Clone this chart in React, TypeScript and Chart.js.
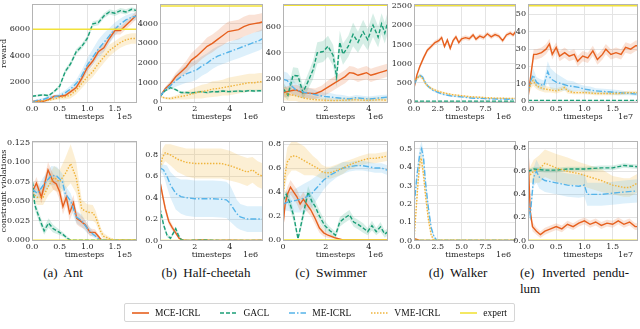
import { useEffect, useRef } from "react";
import { Chart, registerables } from "chart.js";
Chart.register(...registerables);

type Pt = [number, number, number]; // [timestep, mean, half-width of band]

// ---------- (a) Ant : reward (x in 1e5 timesteps) ----------
const antRewMCE: Pt[] = [[0,550,80],[0.1,600,80],[0.2,560,80],[0.3,700,100],[0.4,950,100],[0.5,950,100],[0.6,1000,100],[0.7,1300,150],[0.8,1600,200],[0.9,2300,250],[1.0,3100,300],[1.1,3600,300],[1.2,4300,300],[1.3,4600,300],[1.4,5300,300],[1.5,5900,300],[1.6,5900,300],[1.7,6300,300],[1.8,6700,300],[1.9,7100,300]];
const antRewGACL: Pt[] = [[0,950,80],[0.1,1000,80],[0.2,1050,80],[0.3,1000,80],[0.4,1300,100],[0.5,1700,150],[0.6,2800,200],[0.7,3400,200],[0.8,4300,200],[0.9,4700,200],[1.0,5300,200],[1.1,6400,200],[1.2,6500,200],[1.3,7000,200],[1.4,7300,200],[1.5,7200,200],[1.6,7400,200],[1.7,7300,200],[1.8,7500,150],[1.9,7400,150]];
const antRewME: Pt[] = [[0,500,100],[0.1,650,100],[0.2,700,120],[0.3,850,120],[0.4,900,150],[0.5,1000,150],[0.6,1200,200],[0.7,1500,250],[0.8,1900,300],[0.9,2500,400],[1.0,3300,500],[1.1,3900,600],[1.2,4500,700],[1.3,5000,700],[1.4,5500,600],[1.5,6000,500],[1.6,6400,400],[1.7,6700,350],[1.8,6900,300],[1.9,7000,300]];
const antRewVME: Pt[] = [[0,500,80],[0.1,550,80],[0.2,600,80],[0.3,650,100],[0.4,750,100],[0.5,850,150],[0.6,900,200],[0.7,1050,250],[0.8,1400,300],[0.9,1900,350],[1.0,2400,400],[1.1,2800,400],[1.2,3400,450],[1.3,3900,450],[1.4,4400,450],[1.5,4700,400],[1.6,5000,400],[1.7,5200,400],[1.8,5300,400],[1.9,5300,400]];
const antRewExpert = 6000;

// ---------- (b) Half-cheetah : reward (x in 1e6) ----------
const hcRewMCE: Pt[] = [[0,300,50],[0.3,700,100],[0.6,950,150],[0.9,1300,200],[1.2,1550,250],[1.5,1800,300],[1.8,2150,350],[2.1,2350,400],[2.4,2600,400],[2.7,2850,450],[3.0,3000,450],[3.3,3200,450],[3.6,3400,500],[3.9,3600,500],[4.2,3650,500],[4.5,3700,500],[4.8,3850,500],[5.1,3950,500],[5.4,4000,450],[5.7,4050,450],[5.9,4100,450]];
const hcRewGACL: Pt[] = [[0,300,60],[0.3,600,60],[0.6,750,60],[0.9,650,60],[1.2,500,60],[1.5,500,60],[1.8,480,60],[2.1,520,60],[2.4,550,60],[2.7,500,60],[3.0,550,60],[3.3,540,60],[3.6,580,60],[3.9,550,60],[4.2,560,60],[4.5,580,60],[4.8,560,60],[5.1,600,60],[5.4,580,60],[5.7,590,60],[5.9,600,60]];
const hcRewME: Pt[] = [[0,300,50],[0.3,650,100],[0.6,850,200],[0.9,1100,300],[1.2,1300,400],[1.5,1450,450],[1.8,1550,500],[2.1,1650,500],[2.4,1850,500],[2.7,2000,500],[3.0,2200,500],[3.3,2350,500],[3.6,2450,500],[3.9,2550,500],[4.2,2650,500],[4.5,2750,500],[4.8,2850,500],[5.1,2950,500],[5.4,3050,500],[5.7,3150,500],[5.9,3250,500]];
const hcRewVME: Pt[] = [[0,300,50],[0.3,220,60],[0.6,200,80],[0.9,250,100],[1.2,300,150],[1.5,350,200],[1.8,420,250],[2.1,500,300],[2.4,550,350],[2.7,600,350],[3.0,680,400],[3.3,700,400],[3.6,750,400],[3.9,800,450],[4.2,850,450],[4.5,900,450],[4.8,950,450],[5.1,1000,450],[5.4,1000,450],[5.7,1050,450],[5.9,1050,450]];
const hcRewExpert = 4900;

// ---------- (c) Swimmer : reward (x in 1e6) ----------
const swRewMCE: Pt[] = [[0,100,40],[0.3,110,40],[0.6,120,40],[0.9,100,40],[1.2,95,40],[1.5,90,40],[1.8,110,40],[2.1,140,50],[2.4,170,50],[2.7,200,50],[2.9,220,50],[3.1,250,50],[3.3,245,50],[3.5,230,50],[3.7,240,50],[3.9,250,50],[4.1,230,50],[4.3,240,50],[4.5,250,50],[4.7,260,50],[4.9,270,50]];
const swRewGACL: Pt[] = [[0,130,50],[0.23,80,40],[0.47,230,60],[0.7,225,60],[0.93,100,50],[1.16,180,60],[1.4,270,70],[1.6,400,80],[1.87,410,80],[2.1,450,80],[2.34,380,80],[2.5,220,80],[2.65,480,90],[2.8,390,80],[3.05,450,80],[3.27,540,90],[3.5,480,80],[3.74,560,90],[3.95,500,80],[4.2,610,90],[4.44,520,80],[4.6,620,80],[4.75,550,80],[4.9,640,80]];
const swRewME: Pt[] = [[0,200,60],[0.2,190,60],[0.4,150,60],[0.6,120,50],[0.8,110,50],[1.0,100,40],[1.3,90,40],[1.6,80,30],[1.9,70,30],[2.2,65,30],[2.5,60,25],[2.8,55,25],[3.1,50,20],[3.4,60,20],[3.7,55,20],[4.0,50,20],[4.3,55,20],[4.6,60,20],[4.9,65,20]];
const swRewVME: Pt[] = [[0,90,50],[0.3,85,50],[0.6,75,40],[0.9,60,40],[1.2,50,30],[1.5,45,25],[1.8,42,20],[2.1,40,20],[2.4,38,20],[2.7,40,20],[3.0,42,20],[3.3,45,20],[3.6,42,20],[3.9,40,20],[4.2,42,20],[4.5,45,20],[4.9,40,20]];
const swRewExpert = 760;

// ---------- (d) Walker : reward (x in 1e6) ----------
const wkRewMCE: Pt[] = [[0,360,40],[0.3,700,60],[0.6,920,60],[1.0,1150,60],[1.4,1350,60],[1.8,1450,60],[2.2,1550,60],[2.6,1600,60],[2.9,1680,60],[3.2,1450,60],[3.5,1620,60],[3.8,1400,60],[4.1,1600,60],[4.4,1700,60],[4.7,1550,60],[5.0,1650,60],[5.4,1680,60],[5.8,1650,60],[6.2,1750,60],[6.5,1640,60],[6.9,1720,60],[7.3,1680,60],[7.7,1780,60],[8.1,1700,60],[8.5,1760,60],[8.9,1720,60],[9.3,1600,60],[9.7,1750,60],[10.1,1800,60],[10.4,1750,60],[10.7,1850,60]];
const wkRewGACL: Pt[] = [[0,20,5],[5,20,5],[10.7,20,5]];
const wkRewME: Pt[] = [[0,450,40],[0.3,600,50],[0.6,700,50],[0.9,650,50],[1.2,500,50],[1.5,400,40],[2.0,300,30],[2.5,250,30],[3.0,200,30],[4.0,150,20],[5.0,130,20],[6.0,100,20],[7.0,90,20],[8.0,80,20],[9.0,75,20],[10.0,70,20],[10.7,70,20]];
const wkRewVME: Pt[] = [[0,500,40],[0.3,620,50],[0.6,680,50],[0.9,620,50],[1.2,480,50],[1.5,400,40],[2.0,330,30],[2.5,280,30],[3.0,240,30],[4.0,190,25],[5.0,160,20],[6.0,130,20],[7.0,120,20],[8.0,100,20],[9.0,95,20],[10.0,90,20],[10.7,90,20]];
const wkRewExpert = 2520;

// ---------- (e) Inverted pendulum : reward (x in 1e7) ----------
const ipRewMCE: Pt[] = [[0,2,1],[0.05,15,2],[0.1,27,3],[0.15,27,3],[0.24,28,3],[0.32,30,3],[0.38,33,3],[0.43,27,3],[0.5,31,3],[0.56,26,3],[0.65,28,3],[0.73,26,3],[0.82,27,3],[0.88,23,3],[0.97,26,3],[1.06,25,3],[1.15,29,3],[1.23,24,3],[1.32,27,3],[1.38,30,3],[1.47,27,3],[1.56,28,3],[1.65,27,3],[1.73,31,3],[1.82,30,3],[1.91,32,3],[1.95,32,3]];
const ipRewGACL: Pt[] = [[0,0.5,0.2],[1,0.5,0.2],[1.95,0.5,0.2]];
const ipRewME: Pt[] = [[0,5,2],[0.05,12,3],[0.09,15,4],[0.15,11,3],[0.2,10,3],[0.28,9,3],[0.35,17,6],[0.4,13,6],[0.5,11,5],[0.6,10,4],[0.7,9,3],[0.8,8.5,3],[0.9,8,2],[1.0,7,2],[1.1,6.5,2],[1.2,6,1.5],[1.4,5.5,1.5],[1.6,5,1.5],[1.8,4.5,1],[1.95,4,1]];
const ipRewVME: Pt[] = [[0,5,2],[0.05,10,3],[0.09,12,3],[0.15,9,2],[0.2,8,2],[0.3,7,2],[0.4,6.5,1.5],[0.5,6,1.5],[0.6,7,1.5],[0.65,8,1.5],[0.7,6,1.5],[0.8,5,1],[0.9,5,1],[1.0,5,1],[1.2,4.5,1],[1.4,4.5,1],[1.6,4.5,1],[1.8,5,1],[1.95,5,1]];
const ipRewExpert = 55;

// ---------- (a) Ant : constraint violations ----------
const antVioMCE: Pt[] = [[0,0.061,0.006],[0.08,0.073,0.008],[0.17,0.055,0.008],[0.29,0.09,0.01],[0.38,0.075,0.01],[0.44,0.072,0.01],[0.5,0.062,0.01],[0.56,0.043,0.01],[0.62,0.055,0.01],[0.68,0.035,0.01],[0.75,0.048,0.01],[0.81,0.028,0.008],[0.87,0.025,0.008],[0.96,0.02,0.006],[1.05,0.01,0.005],[1.14,0.01,0.004],[1.2,0.005,0.003],[1.26,0,0.001],[1.4,0,0],[1.9,0,0]];
const antVioGACL: Pt[] = [[0,0.082,0.005],[0.05,0.045,0.006],[0.1,0.035,0.006],[0.15,0.025,0.006],[0.22,0.012,0.005],[0.3,0.022,0.006],[0.38,0.015,0.005],[0.45,0.012,0.004],[0.55,0.008,0.003],[0.65,0.002,0.002],[0.7,0,0.001],[1.9,0,0]];
const antVioME: Pt[] = [[0,0.065,0.008],[0.1,0.06,0.008],[0.2,0.07,0.01],[0.35,0.083,0.012],[0.45,0.082,0.012],[0.55,0.075,0.01],[0.6,0.06,0.01],[0.7,0.05,0.01],[0.8,0.03,0.008],[0.9,0.025,0.008],[1.0,0.015,0.006],[1.1,0.008,0.004],[1.2,0.002,0.002],[1.3,0,0.001],[1.9,0,0]];
const antVioVME: Pt[] = [[0,0.06,0.008],[0.1,0.055,0.01],[0.2,0.055,0.01],[0.3,0.07,0.012],[0.4,0.08,0.015],[0.5,0.075,0.015],[0.6,0.085,0.02],[0.7,0.098,0.025],[0.8,0.08,0.02],[0.9,0.04,0.012],[1.0,0.036,0.01],[1.1,0.035,0.01],[1.15,0.03,0.008],[1.25,0.01,0.005],[1.3,0.005,0.004],[1.4,0.002,0.002],[1.5,0,0.001],[1.9,0,0]];

// ---------- (b) Half-cheetah : constraint violations ----------
const hcVioMCE: Pt[] = [[0,0.55,0.03],[0.15,0.42,0.04],[0.3,0.3,0.04],[0.5,0.18,0.03],[0.7,0.12,0.03],[0.9,0.07,0.02],[1.1,0.02,0.01],[1.3,0.005,0.005],[1.6,0,0.002],[2.5,0.005,0.003],[3.0,0,0.002],[4.0,0.003,0.002],[5.0,0,0.002],[5.9,0.003,0.002]];
const hcVioGACL: Pt[] = [[0,0.3,0.03],[0.2,0.15,0.03],[0.4,0.05,0.02],[0.6,0.02,0.01],[0.8,0.08,0.02],[0.9,0.11,0.02],[1.05,0.05,0.02],[1.2,0.01,0.01],[1.4,0,0.005],[2.5,0.005,0.003],[3.5,0,0.002],[5.9,0,0.002]];
const hcVioME: Pt[] = [[0,0.68,0.03],[0.2,0.66,0.05],[0.4,0.6,0.1],[0.6,0.52,0.12],[0.9,0.44,0.15],[1.2,0.41,0.16],[1.5,0.4,0.17],[2.0,0.39,0.17],[2.5,0.39,0.17],[3.0,0.39,0.17],[3.5,0.385,0.17],[3.8,0.38,0.17],[4.0,0.35,0.17],[4.2,0.3,0.15],[4.4,0.25,0.13],[4.6,0.22,0.12],[5.0,0.2,0.12],[5.5,0.2,0.12],[5.9,0.2,0.12]];
const hcVioVME: Pt[] = [[0,0.68,0.05],[0.15,0.78,0.08],[0.3,0.82,0.08],[0.6,0.8,0.1],[1.0,0.76,0.12],[1.5,0.73,0.13],[2.0,0.72,0.14],[2.5,0.72,0.14],[3.0,0.72,0.14],[3.5,0.72,0.14],[4.0,0.7,0.14],[4.5,0.67,0.13],[5.0,0.64,0.13],[5.3,0.66,0.12],[5.6,0.62,0.12],[5.9,0.6,0.12]];

// ---------- (c) Swimmer : constraint violations ----------
const swVioMCE: Pt[] = [[0,0.12,0.03],[0.1,0.3,0.05],[0.2,0.38,0.06],[0.35,0.44,0.06],[0.5,0.4,0.06],[0.65,0.36,0.06],[0.8,0.3,0.06],[0.95,0.34,0.06],[1.1,0.3,0.06],[1.3,0.25,0.05],[1.5,0.18,0.05],[1.7,0.1,0.04],[1.9,0.06,0.03],[2.1,0.04,0.02],[2.4,0.02,0.01],[2.8,0,0.005],[4.9,0,0.003]];
const swVioGACL: Pt[] = [[0,0.33,0.03],[0.15,0.38,0.04],[0.3,0.32,0.05],[0.5,0.2,0.05],[0.7,0.01,0.02],[0.93,0.2,0.05],[1.17,0.4,0.05],[1.35,0.32,0.05],[1.5,0.28,0.05],[1.7,0.2,0.05],[1.95,0.12,0.04],[2.18,0.08,0.03],[2.45,0.04,0.03],[2.65,0.15,0.04],[2.85,0.18,0.04],[3.1,0.21,0.04],[3.3,0.15,0.04],[3.5,0.13,0.04],[3.74,0.1,0.04],[3.95,0.07,0.03],[4.15,0.12,0.04],[4.35,0.07,0.03],[4.55,0.11,0.04],[4.75,0.05,0.03],[4.9,0.07,0.03]];
const swVioME: Pt[] = [[0,0.3,0.05],[0.3,0.32,0.08],[0.6,0.33,0.1],[1.0,0.35,0.12],[1.3,0.38,0.12],[1.6,0.44,0.1],[1.9,0.5,0.08],[2.2,0.54,0.06],[2.5,0.57,0.05],[2.8,0.6,0.05],[3.1,0.61,0.04],[3.4,0.62,0.04],[3.7,0.62,0.04],[4.0,0.61,0.04],[4.3,0.6,0.04],[4.6,0.6,0.04],[4.9,0.58,0.04]];
const swVioVME: Pt[] = [[0,0.35,0.05],[0.1,0.55,0.1],[0.2,0.65,0.12],[0.4,0.7,0.12],[0.6,0.7,0.12],[0.8,0.68,0.12],[1.0,0.66,0.12],[1.2,0.64,0.1],[1.4,0.62,0.08],[1.6,0.6,0.07],[1.8,0.57,0.06],[2.0,0.56,0.05],[2.2,0.56,0.05],[2.5,0.58,0.05],[2.8,0.6,0.05],[3.0,0.62,0.04],[3.3,0.64,0.04],[3.6,0.66,0.04],[4.0,0.68,0.04],[4.3,0.68,0.04],[4.6,0.69,0.04],[4.9,0.7,0.04]];

// ---------- (d) Walker : constraint violations ----------
const wkVioMCE: Pt[] = [[0,0.01,0.005],[0.3,0.005,0.003],[0.6,0,0.001],[10.7,0,0]];
const wkVioGACL: Pt[] = [[0,0,0],[10.7,0,0]];
const wkVioME: Pt[] = [[0,0.18,0.03],[0.3,0.35,0.04],[0.6,0.47,0.04],[0.8,0.5,0.04],[1.0,0.45,0.04],[1.2,0.32,0.04],[1.5,0.18,0.03],[1.8,0.07,0.02],[2.1,0.02,0.01],[2.4,0,0.003],[10.7,0,0]];
const wkVioVME: Pt[] = [[0,0,0.01],[0.2,0.15,0.03],[0.4,0.3,0.04],[0.6,0.42,0.04],[0.75,0.45,0.04],[1.0,0.36,0.04],[1.2,0.25,0.03],[1.5,0.12,0.03],[1.8,0.03,0.01],[2.1,0,0.003],[10.7,0,0]];

// ---------- (e) Inverted pendulum : constraint violations ----------
const ipVioMCE: Pt[] = [[0,0.8,0.02],[0.02,0.5,0.05],[0.04,0.25,0.05],[0.08,0.12,0.04],[0.15,0.08,0.03],[0.22,0.05,0.03],[0.3,0.08,0.03],[0.4,0.1,0.03],[0.5,0.12,0.03],[0.6,0.1,0.03],[0.7,0.14,0.03],[0.8,0.12,0.03],[0.9,0.15,0.03],[1.0,0.17,0.03],[1.1,0.14,0.03],[1.2,0.16,0.03],[1.3,0.13,0.03],[1.4,0.15,0.03],[1.5,0.14,0.03],[1.6,0.17,0.03],[1.7,0.14,0.03],[1.8,0.16,0.03],[1.9,0.12,0.03],[1.95,0.12,0.03]];
const ipVioGACL: Pt[] = [[0,0.6,0.02],[0.1,0.62,0.02],[0.3,0.61,0.02],[0.5,0.61,0.02],[0.7,0.62,0.02],[1.0,0.62,0.02],[1.3,0.63,0.02],[1.5,0.63,0.02],[1.7,0.65,0.02],[1.95,0.64,0.02]];
const ipVioME: Pt[] = [[0,0.35,0.05],[0.04,0.22,0.05],[0.1,0.55,0.08],[0.15,0.6,0.1],[0.2,0.55,0.1],[0.3,0.52,0.1],[0.5,0.5,0.1],[0.7,0.48,0.1],[0.9,0.47,0.1],[1.0,0.48,0.1],[1.05,0.4,0.1],[1.3,0.4,0.1],[1.5,0.41,0.1],[1.7,0.42,0.1],[1.95,0.43,0.1]];
const ipVioVME: Pt[] = [[0,0.55,0.05],[0.1,0.6,0.1],[0.2,0.62,0.12],[0.3,0.67,0.12],[0.5,0.63,0.12],[0.7,0.6,0.12],[0.9,0.58,0.1],[1.1,0.55,0.1],[1.3,0.52,0.1],[1.5,0.48,0.08],[1.7,0.46,0.08],[1.8,0.46,0.08],[1.95,0.5,0.08]];
const vioExpert = 0;

// ---------- ticks ----------
const xTicksA = [0, 0.5, 1, 1.5]; const xLabelsA = ["0.0", "0.5", "1.0", "1.5"];
const xTicksB = [0, 2, 4]; const xLabelsB = ["0", "2", "4"];
const xTicksD = [0, 2.5, 5, 7.5]; const xLabelsD = ["0.0", "2.5", "5.0", "7.5"];
const yTicksAntRew = [2000, 4000, 6000];
const yTicksHcRew = [0, 1000, 2000, 3000, 4000];
const yTicksSwRew = [200, 400, 600];
const yTicksWkRew = [0, 500, 1000, 1500, 2000, 2500];
const yTicksIpRew = [0, 10, 20, 30, 40, 50];
const yTicksAntVio = [0, 0.025, 0.05, 0.075, 0.1, 0.125];
const yLabelsAntVio = ["0.000", "0.025", "0.050", "0.075", "0.100", "0.125"];
const yTicksVio8 = [0, 0.2, 0.4, 0.6, 0.8]; const yLabelsVio8 = ["0.0", "0.2", "0.4", "0.6", "0.8"];
const yTicksVio5 = [0, 0.1, 0.2, 0.3, 0.4, 0.5]; const yLabelsVio5 = ["0.0", "0.1", "0.2", "0.3", "0.4", "0.5"];

const LABELS = ["MCE-ICRL", "GACL", "ME-ICRL", "VME-ICRL", "expert"];
const COLORS = ["#e6601e", "#1b9e77", "#56b4e9", "#f0b43c", "#f2e23a"];
const BANDS = ["rgba(230,96,30,0.18)", "rgba(27,158,119,0.18)", "rgba(86,180,233,0.2)", "rgba(240,180,60,0.22)", "rgba(0,0,0,0)"];
const DASHES: number[][] = [[], [4, 2], [6, 2, 1.5, 2], [1.5, 1.5], []];

const FONT = "'DejaVu Serif', serif";
const LP = 34, TP = 6, RP = 3, BP = 19;
const GRID = "#e4e4e4";
const FRAME = "#b4b4b4";
const TXT = "#262626";

interface PanelCfg {
  box: [number, number, number, number];
  xMax: number; yMin: number; yMax: number;
  xTicks: number[]; xLabels: string[];
  yTicks: number[]; yLabels: string[];
  exp: string; yTitle?: string;
  series: Pt[][]; expert: number;
}

const str = (a: number[]) => a.map(String);

const PANELS: PanelCfg[] = [
  { box: [32, 4, 137, 103], xMax: 1.9, yMin: 440, yMax: 7900, xTicks: xTicksA, xLabels: xLabelsA, yTicks: yTicksAntRew, yLabels: str(yTicksAntRew), exp: "1e5", yTitle: "reward", series: [antRewMCE, antRewGACL, antRewME, antRewVME], expert: antRewExpert },
  { box: [160, 4, 263, 103], xMax: 5.9, yMin: -30, yMax: 5000, xTicks: xTicksB, xLabels: xLabelsB, yTicks: yTicksHcRew, yLabels: str(yTicksHcRew), exp: "1e6", series: [hcRewMCE, hcRewGACL, hcRewME, hcRewVME], expert: hcRewExpert },
  { box: [283, 4, 388, 103], xMax: 4.9, yMin: 20, yMax: 770, xTicks: xTicksB, xLabels: xLabelsB, yTicks: yTicksSwRew, yLabels: str(yTicksSwRew), exp: "1e6", series: [swRewMCE, swRewGACL, swRewME, swRewVME], expert: swRewExpert },
  { box: [414, 4, 516, 103], xMax: 10.7, yMin: -30, yMax: 2560, xTicks: xTicksD, xLabels: xLabelsD, yTicks: yTicksWkRew, yLabels: str(yTicksWkRew), exp: "1e6", series: [wkRewMCE, wkRewGACL, wkRewME, wkRewVME], expert: wkRewExpert },
  { box: [528, 4, 638, 103], xMax: 1.95, yMin: -1, yMax: 56, xTicks: xTicksA, xLabels: xLabelsA, yTicks: yTicksIpRew, yLabels: str(yTicksIpRew), exp: "1e7", series: [ipRewMCE, ipRewGACL, ipRewME, ipRewVME], expert: ipRewExpert },
  { box: [32, 141, 137, 241], xMax: 1.9, yMin: -0.001, yMax: 0.127, xTicks: xTicksA, xLabels: xLabelsA, yTicks: yTicksAntVio, yLabels: yLabelsAntVio, exp: "1e5", yTitle: "constraint violations", series: [antVioMCE, antVioGACL, antVioME, antVioVME], expert: vioExpert },
  { box: [160, 141, 263, 241], xMax: 5.9, yMin: -0.005, yMax: 0.93, xTicks: xTicksB, xLabels: xLabelsB, yTicks: yTicksVio8, yLabels: yLabelsVio8, exp: "1e6", series: [hcVioMCE, hcVioGACL, hcVioME, hcVioVME], expert: vioExpert },
  { box: [283, 141, 388, 241], xMax: 4.9, yMin: -0.008, yMax: 0.825, xTicks: xTicksB, xLabels: xLabelsB, yTicks: yTicksVio8, yLabels: yLabelsVio8, exp: "1e6", series: [swVioMCE, swVioGACL, swVioME, swVioVME], expert: vioExpert },
  { box: [414, 141, 516, 241], xMax: 10.7, yMin: -0.003, yMax: 0.543, xTicks: xTicksD, xLabels: xLabelsD, yTicks: yTicksVio5, yLabels: yLabelsVio5, exp: "1e6", series: [wkVioMCE, wkVioGACL, wkVioME, wkVioVME], expert: vioExpert },
  { box: [528, 141, 638, 241], xMax: 1.95, yMin: -0.005, yMax: 0.863, xTicks: xTicksA, xLabels: xLabelsA, yTicks: yTicksVio8, yLabels: yLabelsVio8, exp: "1e7", series: [ipVioMCE, ipVioGACL, ipVioME, ipVioVME], expert: vioExpert },
];

const framePlugin = {
  id: "frame",
  afterDatasetsDraw(chart: any) {
    const { ctx, chartArea: a } = chart;
    ctx.save();
    ctx.strokeStyle = FRAME;
    ctx.lineWidth = 1;
    ctx.strokeRect(Math.round(a.left) + 0.5, Math.round(a.top) + 0.5, Math.round(a.right - a.left) - 1, Math.round(a.bottom - a.top) - 1);
    ctx.restore();
  },
};

const expPlugin = {
  id: "expLabel",
  afterDraw(chart: any, _args: any, opts: any) {
    const { ctx, chartArea: a } = chart;
    ctx.save();
    ctx.font = `8px ${FONT}`;
    ctx.fillStyle = TXT;
    ctx.textAlign = "right";
    ctx.textBaseline = "middle";
    ctx.fillText(opts.text, a.right - 5, a.bottom + BP - 5);
    ctx.restore();
  },
};

function Panel({ cfg }: { cfg: PanelCfg }) {
  const ref = useRef<HTMLCanvasElement>(null);
  const [l, t, r, b] = cfg.box;
  const w = LP + (r - l) + RP;
  const h = TP + (b - t) + BP;
  useEffect(() => {
    const datasets: any[] = [];
    cfg.series.forEach((pts, i) => {
      datasets.push({ data: pts.map((p) => ({ x: p[0], y: p[1] - p[2] })), borderWidth: 0, pointRadius: 0, fill: false, order: 20 });
      datasets.push({ data: pts.map((p) => ({ x: p[0], y: p[1] + p[2] })), borderWidth: 0, pointRadius: 0, fill: "-1", backgroundColor: BANDS[i], order: 20 });
    });
    cfg.series.forEach((pts, i) => {
      datasets.push({ label: LABELS[i], data: pts.map((p) => ({ x: p[0], y: p[1] })), borderColor: COLORS[i], borderWidth: 1.4, borderDash: DASHES[i], pointRadius: 0, fill: false, tension: 0, order: 10 - i });
    });
    datasets.push({ label: LABELS[4], data: [{ x: 0, y: cfg.expert }, { x: cfg.xMax, y: cfg.expert }], borderColor: COLORS[4], borderWidth: 1.6, pointRadius: 0, fill: false, order: 1 });

    const tickFont = { family: FONT, size: 8 };
    const chart = new Chart(ref.current as HTMLCanvasElement, {
      type: "line",
      data: { datasets },
      plugins: [framePlugin, expPlugin],
      options: {
        animation: false,
        responsive: false,
        devicePixelRatio: 1,
        layout: { padding: { top: TP, right: RP, left: 0, bottom: 0 } },
        plugins: { legend: { display: false }, tooltip: { enabled: false }, expLabel: { text: cfg.exp } } as any,
        scales: {
          x: {
            type: "linear", min: 0, max: cfg.xMax,
            afterBuildTicks: (s: any) => { s.ticks = cfg.xTicks.map((v) => ({ value: v })); },
            afterFit: (s: any) => { s.height = BP; s.paddingLeft = 0; s.paddingRight = 0; },
            ticks: { callback: (_v: any, i: number) => cfg.xLabels[i], font: tickFont, color: TXT, padding: 1, maxRotation: 0, autoSkip: false },
            grid: { color: GRID, drawTicks: false, lineWidth: 1 },
            border: { display: false },
            title: { display: true, text: "timesteps", font: tickFont, color: TXT, padding: 0 },
          },
          y: {
            type: "linear", min: cfg.yMin, max: cfg.yMax,
            afterBuildTicks: (s: any) => { s.ticks = cfg.yTicks.map((v) => ({ value: v })); },
            afterFit: (s: any) => { s.width = LP; s.paddingTop = 0; s.paddingBottom = 0; },
            ticks: { callback: (_v: any, i: number) => cfg.yLabels[i], font: tickFont, color: TXT, padding: 2, autoSkip: false },
            grid: { color: GRID, drawTicks: false, lineWidth: 1 },
            border: { display: false },
            title: { display: !!cfg.yTitle, text: cfg.yTitle || "", font: tickFont, color: TXT, padding: { top: 1, bottom: 0 } },
          },
        },
      } as any,
    });
    return () => chart.destroy();
  }, []);
  return (
    <canvas ref={ref} width={w} height={h}
      style={{ position: "absolute", left: l - LP, top: t - TP, width: w, height: h }} />
  );
}

const CAPTIONS: [string, number][] = [["(a)\u00a0 Ant", 63], ["(b)\u00a0 Half-cheetah", 206], ["(c)\u00a0 Swimmer", 331], ["(d)\u00a0 Walker", 458]];

export default function App() {
  const capFont = "'Liberation Serif', 'Times New Roman', serif";
  return (
    <div style={{ position: "fixed", left: 0, top: 0, width: 640, height: 329, background: "#fff", overflow: "hidden" }}>
      {PANELS.map((p, i) => <Panel key={i} cfg={p} />)}
      {CAPTIONS.map(([txt, cx], i) => (
        <div key={i} style={{ position: "absolute", left: cx - 70, width: 140, top: 265, lineHeight: "16px", textAlign: "center", fontFamily: capFont, fontSize: 13, color: "#111", whiteSpace: "nowrap" }}>{txt}</div>
      ))}
      <div style={{ position: "absolute", left: 520, width: 109, top: 265, lineHeight: "16px", display: "flex", justifyContent: "space-between", fontFamily: capFont, fontSize: 13, color: "#111", whiteSpace: "nowrap" }}>
        <span>(e)</span><span>Inverted</span><span>pendu-</span>
      </div>
      <div style={{ position: "absolute", left: 520, top: 281, lineHeight: "16px", fontFamily: capFont, fontSize: 13, color: "#111" }}>lum</div>
      <div style={{ position: "absolute", left: 124, top: 303, height: 19, boxSizing: "border-box", border: "1px solid #d6d6d6", borderRadius: 2, display: "flex", alignItems: "center", padding: "0 7px", gap: 20, fontFamily: capFont, fontSize: 9.5, color: "#111", whiteSpace: "nowrap" }}>
        {LABELS.map((lb, i) => (
          <div key={lb} style={{ display: "flex", alignItems: "center", gap: 6 }}>
            <svg width={17} height={4}><line x1={0} y1={2} x2={17} y2={2} stroke={COLORS[i]} strokeWidth={1.6} strokeDasharray={DASHES[i].length ? DASHES[i].join(" ") : undefined} /></svg>
            <span>{lb}</span>
          </div>
        ))}
      </div>
    </div>
  );
}
